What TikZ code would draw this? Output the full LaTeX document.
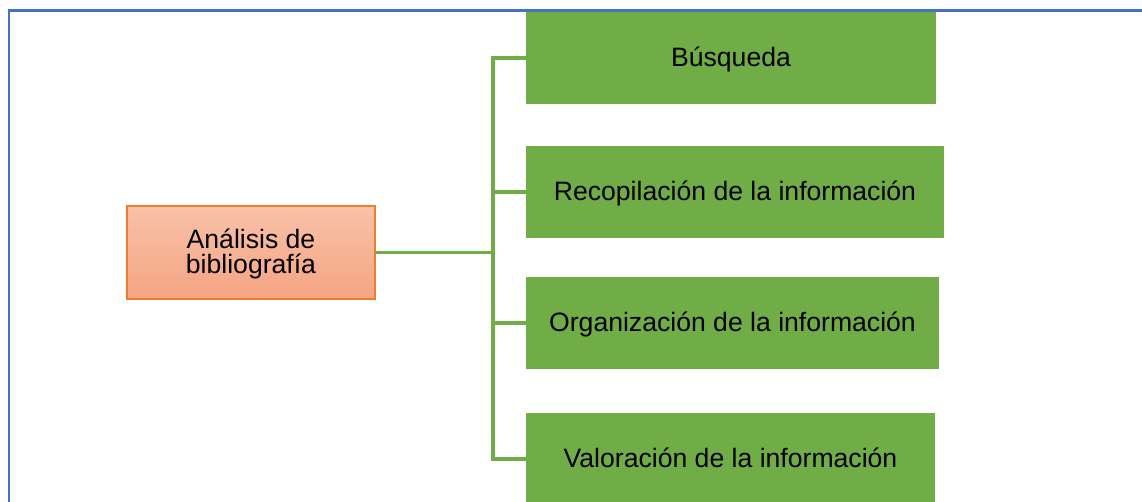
\documentclass[tikz,border=0pt]{standalone}
\usepackage{fontspec}
\setmainfont{Liberation Sans}
\begin{document}
\begin{tikzpicture}[x=0.5pt,y=-0.5pt,
  every node/.style={inner sep=0pt,outer sep=0pt,font=\fontsize{13.3pt}{12.5pt}\selectfont},
  gbox/.style={fill=gfill,minimum height=46pt,anchor=west,text height=8.9pt,text depth=0pt},
  obox/.style={draw=oline,line width=0.75pt,top color=otop,bottom color=obot,
    minimum width=124pt,minimum height=46.5pt,align=center},
  conn/.style={draw=gfill,line width=1.6pt}]
\definecolor{gfill}{HTML}{70AD47}
\definecolor{oline}{HTML}{ED7D31}
\definecolor{otop}{HTML}{F8C2A9}
\definecolor{obot}{HTML}{F4A482}
\definecolor{bline}{HTML}{4472C4}
\useasboundingbox (0,0) rectangle (1142,502);
\draw[bline,line width=1.4pt] (9,520) -- (9,10.3) -- (1160,10.3);
\node[obox,text height=20.8pt,text depth=0pt] (a) at (251,252.5) {Análisis de\\bibliografía};
\node[gbox,minimum width=205pt] (b1) at (526,58) {Búsqueda};
\node[gbox,minimum width=209pt] (b2) at (526,192) {Recopilación de la información};
\node[gbox,minimum width=206.5pt] (b3) at (526,323) {Organización de la información};
\node[gbox,minimum width=204.5pt] (b4) at (526,459) {Valoración de la información};
\coordinate (tx) at (493,252.5);
\draw[conn] (a.east) -- (a.east -| tx);
\draw[conn] (b1.west) -- (b1.west -| tx) -- (b4.west -| tx) -- (b4.west);
\draw[conn] (b2.west) -- (b2.west -| tx);
\draw[conn] (b3.west) -- (b3.west -| tx);
\end{tikzpicture}
\end{document}
